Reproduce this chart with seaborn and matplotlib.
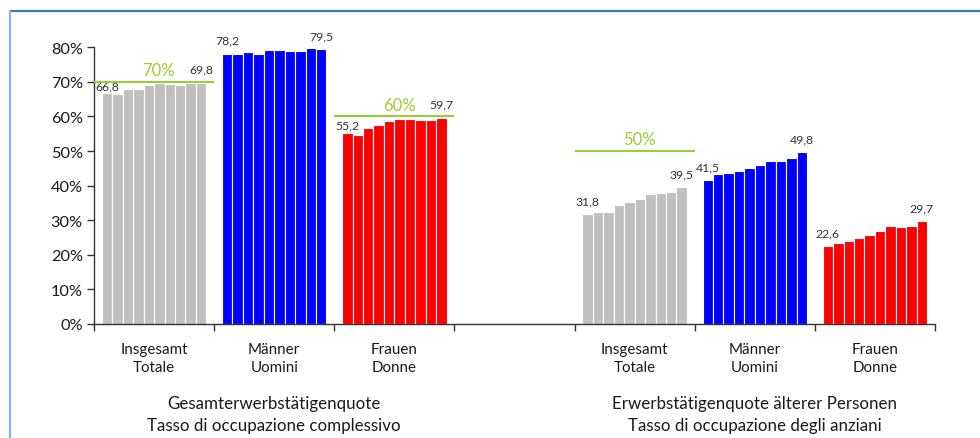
import matplotlib
matplotlib.use("Agg")
import matplotlib.pyplot as plt
from matplotlib.lines import Line2D
from matplotlib.ticker import FixedLocator
import pandas as pd
import seaborn as sns

# Employment rates (%), ten consecutive periods per bar group
total_all = [66.8, 66.5, 67.8, 68.0, 69.2, 69.6, 69.3, 69.1, 69.7, 69.8]
men_all = [78.2, 78.1, 78.5, 78.1, 79.2, 79.3, 78.8, 78.8, 79.7, 79.5]
women_all = [55.2, 54.6, 56.6, 57.4, 58.7, 59.4, 59.3, 58.9, 59.1, 59.7]
total_old = [31.8, 32.3, 32.3, 34.3, 35.2, 36.1, 37.5, 37.8, 38.2, 39.5]
men_old = [41.5, 43.3, 43.6, 44.2, 45.2, 46.1, 47.0, 47.2, 48.1, 49.8]
women_old = [22.6, 23.3, 24.1, 25.0, 25.7, 27.0, 28.2, 28.0, 28.3, 29.7]

segment_labels = ["Insgesamt\nTotale", "Männer\nUomini", "Frauen\nDonne"]
group_titles = ["Gesamterwerbstätigenquote\nTasso di occupazione complessivo",
                "Erwerbstätigenquote älterer Personen\nTasso di occupazione degli anziani"]
y_ticks = [0, 10, 20, 30, 40, 50, 60, 70, 80]

# Targets: (slot index, target value)
targets = [(0, 70), (2, 60), (4, 50)]

# Slot layout on the x axis: 3 bars, a gap, 3 bars
slots = ["s0", "s1", "s2", "s3", "s4", "s5", "s6"]
series_by_slot = {"s0": total_all, "s1": men_all, "s2": women_all,
                  "s4": total_old, "s5": men_old, "s6": women_old}
slot_colors = {0: "#C0C0C0", 1: "#0000FF", 2: "#FF0000",
               4: "#C0C0C0", 5: "#0000FF", 6: "#FF0000"}

rows = []
for slot, vals in series_by_slot.items():
    for i, v in enumerate(vals):
        rows.append({"slot": slot, "period": f"p{i + 1:02d}", "value": v})
df = pd.DataFrame(rows)

sns.set_style("ticks")
plt.rcParams["font.family"] = ["Lato", "DejaVu Sans"]

fig = plt.figure(figsize=(9.8, 4.39), dpi=100)
ax = fig.add_axes([94 / 980, 1 - 325 / 439, (935 - 94) / 980, (325 - 48.3) / 439])

sns.barplot(data=df, x="slot", y="value", hue="period", order=slots,
            palette=["#808080"] * 10, width=0.87, saturation=1,
            edgecolor="white", linewidth=0.8, legend=False, ax=ax)

# Colour bars by the slot they belong to
bars_by_slot = {}
for cont in ax.containers:
    for bar in cont:
        idx = int(round(bar.get_x() + bar.get_width() / 2))
        bar.set_facecolor(slot_colors[idx])
        bars_by_slot.setdefault(idx, []).append(bar)

# Value labels on first and last bar of each slot
low_label = {0: 5, 2: 6}
for idx, bars in bars_by_slot.items():
    bars = sorted(bars, key=lambda b: b.get_x())
    for j, b in enumerate([bars[0], bars[-1]]):
        v = b.get_height()
        off = low_label.get(idx, 9.5) if j == 0 else 9.5
        ax.annotate(f"{v:.1f}".replace(".", ","),
                    (b.get_x() + b.get_width() / 2, v),
                    xytext=(0, off), textcoords="offset points",
                    ha="center", va="center", fontsize=8.8, color="#333333",
                    annotation_clip=False)

# Target lines
green = "#9ACD32"
for idx, t in targets:
    ax.plot([idx - 0.5, idx + 0.5], [t, t], color=green, lw=1.5,
            solid_capstyle="butt", clip_on=False, zorder=4)
    ax.annotate(f"{t}%", (idx + 0.04, t), xytext=(0, 8.5), textcoords="offset points",
                ha="center", va="center", fontsize=12, color=green,
                annotation_clip=False)

ax.set_ylim(0, 80)
ax.set_xlim(-0.5, 6.5)
ax.yaxis.set_major_locator(FixedLocator(y_ticks))
ax.set_yticklabels([f"{t}%" for t in y_ticks])
ax.xaxis.set_major_locator(FixedLocator([i - 0.5 for i in range(8)]))
ax.set_xticklabels([])
ax.tick_params(axis="y", direction="out", length=5, width=1, color="#333333",
               labelsize=11.8, labelcolor="#1a1a1a", pad=3)
ax.tick_params(axis="x", direction="out", length=5, width=1, color="#333333")
ax.set_xlabel("")
ax.set_ylabel("")
sns.despine(ax=ax)
for s in ("left", "bottom"):
    ax.spines[s].set_color("#333333")
    ax.spines[s].set_linewidth(1)

# Segment labels under each slot
for k, idx in enumerate([0, 1, 2, 4, 5, 6]):
    ax.annotate(segment_labels[k % 3], (idx, 0), xycoords=("data", "axes fraction"),
                xytext=(0, -24.5), textcoords="offset points", ha="center", va="center",
                fontsize=10.9, color="#1a1a1a", linespacing=1.42, annotation_clip=False)

# Group titles
for title, idx in zip(group_titles, [1, 5]):
    ax.annotate(title, (idx, 0), xycoords=("data", "axes fraction"),
                xytext=(0, -64.5), textcoords="offset points", ha="center", va="center",
                fontsize=12.2, color="#1a1a1a", linespacing=1.45, annotation_clip=False)

# Frame around the figure
fig.add_artist(Line2D([10 / 980, 1.0], [1 - 11.5 / 439, 1 - 11.5 / 439],
                      transform=fig.transFigure, color="#3A7CC0", lw=1.6))
fig.add_artist(Line2D([10 / 980, 10 / 980], [1 - 11.5 / 439, 0.0],
                      transform=fig.transFigure, color="#86B7E4", lw=1.6))

fig.savefig("out.png", dpi=100)
